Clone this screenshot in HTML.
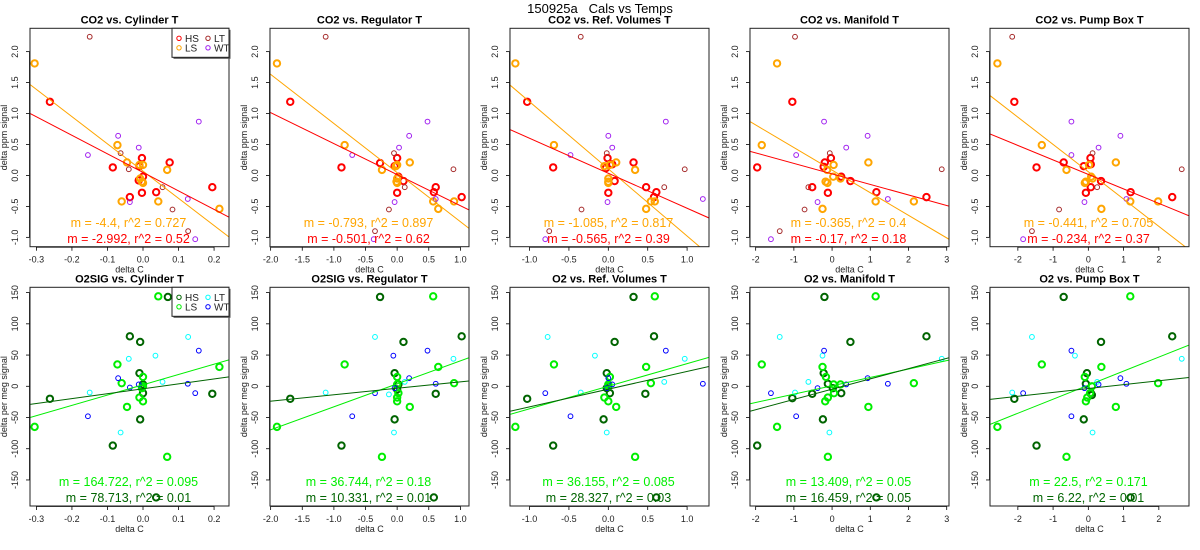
<!DOCTYPE html>
<html><head><meta charset="utf-8"><title>150925a Cals vs Temps</title>
<style>
html,body{margin:0;padding:0;background:#fff;}
svg{display:block;font-family:"Liberation Sans",Arial,sans-serif;}
</style></head>
<body>
<svg id="chart" width="1200" height="550" viewBox="0 0 1200 550">
<text x="600" y="13" text-anchor="middle" font-size="13" style="white-space:pre" xml:space="preserve">150925a   Cals vs Temps</text>
</svg>
<script>
// ---- data ----
const co2Titles = ["CO2 vs. Cylinder T","CO2 vs. Regulator T","CO2 vs. Ref. Volumes T","CO2 vs. Manifold T","CO2 vs. Pump Box T"];
const o2Titles = ["O2SIG vs. Cylinder T","O2SIG vs. Regulator T","O2 vs. Ref. Volumes T","O2 vs. Manifold T","O2 vs. Pump Box T"];
const xRanges = [[-0.318,0.242],[-2.01,1.136],[-1.248,1.278],[-2.148,3.06],[-2.79,2.856]];
const xTicks = [[-0.3,-0.2,-0.1,0,0.1,0.2],[-2,-1.5,-1,-0.5,0,0.5,1],[-1,-0.5,0,0.5,1],[-2,-1,0,1,2,3],[-2,-1,0,1,2]];
const xDigits = [1,1,1,0,0];
const co2Range = [-1.151,2.377];
const co2Ticks = [-1,-0.5,0,0.5,1,1.5,2];
const o2Range = [-191.7,158.5];
const o2Ticks = [-150,-100,-50,0,50,100,150];
// CO2 points: [x, y, group]  groups: H=HS, L=LS, T=LT, W=WT
const co2Points = [
[[-0.262,1.19,"H"],[-0.085,0.13,"H"],[-0.037,-0.35,"H"],[-0.003,0.28,"H"],[-0.003,-0.28,"H"],[0.037,-0.27,"H"],[0.075,0.21,"H"],[0.195,-0.19,"H"],[-0.01,0.15,"H"],[0,-0.02,"H"],[-0.012,-0.08,"H"],
 [-0.305,1.81,"L"],[-0.072,0.49,"L"],[-0.045,0.21,"L"],[-0.06,-0.42,"L"],[0.043,-0.42,"L"],[0.068,0.09,"L"],[0.215,-0.54,"L"],[0,0.17,"L"],[-0.008,-0.05,"L"],[-0.003,-0.1,"L"],[0,-0.12,"L"],[-0.01,0.17,"L"],
 [-0.15,2.24,"T"],[-0.063,0.36,"T"],[-0.04,0.1,"T"],[0.055,-0.19,"T"],[0.083,-0.55,"T"],[0.127,-0.9,"T"],
 [-0.155,0.33,"W"],[-0.07,0.64,"W"],[-0.012,0.45,"W"],[0.157,0.87,"W"],[0.126,-0.38,"W"],[-0.037,-0.43,"W"],[0.147,-1.03,"W"]],
[[-1.69,1.19,"H"],[-0.88,0.13,"H"],[-0.27,0.2,"H"],[-0.04,0.15,"H"],[0,0.28,"H"],[0,-0.28,"H"],[0.1,-0.09,"H"],[0.58,-0.27,"H"],[0.61,-0.19,"H"],[1.02,-0.35,"H"],[0.02,-0.02,"H"],
 [-1.9,1.81,"L"],[-0.83,0.49,"L"],[-0.24,0.09,"L"],[0.2,0.21,"L"],[0.57,-0.42,"L"],[0.65,-0.54,"L"],[0.9,-0.42,"L"],[0,0.17,"L"],[0,-0.05,"L"],[-0.01,-0.1,"L"],[0,-0.12,"L"],[-0.02,0.15,"L"],
 [-1.13,2.24,"T"],[-0.05,0.36,"T"],[0.12,-0.19,"T"],[0.89,0.1,"T"],[-0.13,-0.55,"T"],[-0.35,-0.9,"T"],
 [-0.71,0.33,"W"],[0.19,0.64,"W"],[0.03,0.45,"W"],[0.48,0.87,"W"],[0.61,-0.38,"W"],[-0.04,-0.43,"W"],[-0.37,-1.03,"W"]],
[[-1.03,1.19,"H"],[-0.7,0.13,"H"],[-0.01,0.28,"H"],[0,-0.28,"H"],[0.32,0.21,"H"],[0.48,-0.19,"H"],[0.58,-0.35,"H"],[0.61,-0.27,"H"],[0.08,-0.09,"H"],[-0.03,0.12,"H"],[0.05,0.18,"H"],
 [-1.18,1.81,"L"],[-0.69,0.49,"L"],[0.1,0.21,"L"],[0.34,0.09,"L"],[0.48,-0.54,"L"],[0.54,-0.42,"L"],[0.59,-0.42,"L"],[-0.05,0.15,"L"],[0.02,0.17,"L"],[0,-0.05,"L"],[0,-0.1,"L"],[0,-0.12,"L"],
 [-0.35,2.24,"T"],[-0.02,0.36,"T"],[0.97,0.1,"T"],[0.71,-0.19,"T"],[-0.34,-0.55,"T"],[-0.75,-0.9,"T"],
 [-0.48,0.33,"W"],[0,0.64,"W"],[0.05,0.45,"W"],[0.73,0.87,"W"],[1.2,-0.38,"W"],[-0.01,-0.43,"W"],[-0.8,-1.03,"W"]],
[[-1.04,1.19,"H"],[-1.96,0.13,"H"],[-0.03,0.28,"H"],[-0.19,0.21,"H"],[-0.22,0.14,"H"],[0.24,-0.02,"H"],[0.48,-0.09,"H"],[-0.11,-0.28,"H"],[1.16,-0.27,"H"],[2.47,-0.35,"H"],[-0.52,-0.19,"H"],
 [-1.44,1.81,"L"],[-1.84,0.49,"L"],[0.95,0.21,"L"],[0.04,0.17,"L"],[-0.13,0.09,"L"],[-0.25,-0.54,"L"],[1.14,-0.42,"L"],[2.14,-0.42,"L"],[0.22,-0.05,"L"],[-0.17,-0.1,"L"],[-0.12,-0.12,"L"],[0.03,-0.02,"L"],
 [-0.97,2.24,"T"],[-0.06,0.36,"T"],[2.87,0.1,"T"],[-0.62,-0.19,"T"],[-0.72,-0.55,"T"],[-1.37,-0.9,"T"],
 [-0.94,0.33,"W"],[-0.21,0.87,"W"],[0.93,0.64,"W"],[0.37,0.45,"W"],[1.46,-0.38,"W"],[-0.38,-0.43,"W"],[-1.6,-1.03,"W"]],
[[-2.1,1.19,"H"],[-1.47,0.13,"H"],[-0.7,0.21,"H"],[-0.13,0.15,"H"],[0.06,0.28,"H"],[0.07,0.18,"H"],[-0.07,-0.28,"H"],[0.07,-0.19,"H"],[0.36,-0.09,"H"],[1.2,-0.27,"H"],[2.38,-0.35,"H"],
 [-2.58,1.81,"L"],[-1.32,0.49,"L"],[-0.62,0.09,"L"],[0.78,0.21,"L"],[0.37,-0.54,"L"],[1.19,-0.42,"L"],[1.98,-0.42,"L"],[0.02,0.17,"L"],[0.08,-0.02,"L"],[-0.07,-0.1,"L"],[-0.1,-0.12,"L"],[0.12,-0.05,"L"],
 [-2.16,2.24,"T"],[0.12,0.36,"T"],[2.65,0.1,"T"],[0.25,-0.19,"T"],[-0.83,-0.55,"T"],[-1.6,-0.9,"T"],
 [-0.48,0.87,"W"],[0.91,0.64,"W"],[0.29,0.45,"W"],[-0.48,0.33,"W"],[1.08,-0.38,"W"],[-0.11,-0.43,"W"],[-1.85,-1.03,"W"]]
];
const o2Points = [
[[-0.262,-20,"H"],[-0.037,80,"H"],[-0.008,71,"H"],[-0.01,21,"H"],[-0.085,-95,"H"],[-0.008,-53,"H"],[0,-11,"H"],[0.195,-12,"H"],[0.07,143,"H"],[0.037,-178,"H"],[0,3,"H"],
 [-0.305,-65,"L"],[0.043,144,"L"],[-0.072,35,"L"],[-0.06,5,"L"],[-0.045,-33,"L"],[0,15,"L"],[-0.01,-18,"L"],[0,-24,"L"],[0.068,-113,"L"],[0.215,31,"L"],[0,0,"L"],[-0.003,-3,"L"],
 [-0.15,-10,"T"],[0.127,79,"T"],[-0.04,44,"T"],[0.055,7,"T"],[-0.063,-74,"T"],[0.035,49,"T"],
 [-0.155,-48,"W"],[-0.07,13,"W"],[-0.037,-2,"W"],[-0.012,3,"W"],[0.157,57,"W"],[0.126,4,"W"],[0.147,-11,"W"]],
[[-1.69,-20,"H"],[-0.27,143,"H"],[0.1,71,"H"],[1.02,80,"H"],[-0.04,21,"H"],[0.02,3,"H"],[0.61,-12,"H"],[-0.04,-53,"H"],[-0.88,-95,"H"],[0.58,-178,"H"],[0,-5,"H"],
 [-1.9,-65,"L"],[0.57,144,"L"],[-0.83,35,"L"],[0.65,31,"L"],[0.9,5,"L"],[0,15,"L"],[0,-18,"L"],[0,-24,"L"],[0.2,-33,"L"],[-0.24,-113,"L"],[0.02,-11,"L"],[0,3,"L"],
 [-1.13,-10,"T"],[-0.35,79,"T"],[0.12,7,"T"],[0.89,44,"T"],[-0.05,-74,"T"],[-0.13,-13,"T"],
 [-0.71,-48,"W"],[-0.35,-11,"W"],[0.19,13,"W"],[0.48,57,"W"],[0.61,4,"W"],[-0.04,-3,"W"],[-0.06,49,"W"]],
[[-1.03,-20,"H"],[0.32,143,"H"],[0.08,71,"H"],[0.58,80,"H"],[-0.02,21,"H"],[0.47,-12,"H"],[-0.06,-53,"H"],[-0.7,-95,"H"],[0.61,-178,"H"],[-0.02,-3,"H"],[0.02,-11,"H"],
 [-1.18,-65,"L"],[0.59,144,"L"],[-0.69,35,"L"],[0.48,31,"L"],[0.54,5,"L"],[0.02,15,"L"],[-0.05,-18,"L"],[0,-24,"L"],[0.1,-33,"L"],[0.34,-113,"L"],[0,3,"L"],[0,0,"L"],
 [-0.77,79,"T"],[-0.35,-10,"T"],[0.71,7,"T"],[0.97,44,"T"],[-0.02,-74,"T"],[-0.17,49,"T"],
 [-0.8,-11,"W"],[-0.48,-48,"W"],[0,13,"W"],[0.05,3,"W"],[0.73,57,"W"],[1.2,4,"W"],[-0.02,-3,"W"]],
[[-1.96,-95,"H"],[-0.2,143,"H"],[0.48,71,"H"],[2.47,80,"H"],[-0.22,21,"H"],[-0.11,4,"H"],[0.24,-11,"H"],[-0.52,-12,"H"],[-1.04,-19,"H"],[-0.24,-53,"H"],[1.16,-178,"H"],[0.02,-3,"H"],
 [-1.84,35,"L"],[1.14,144,"L"],[-0.25,31,"L"],[-0.16,15,"L"],[0.04,3,"L"],[0.22,3,"L"],[-0.11,-18,"L"],[-0.18,-24,"L"],[0.95,-33,"L"],[-1.44,-65,"L"],[-0.11,-113,"L"],[2.14,5,"L"],[0.05,-11,"L"],
 [-1.37,79,"T"],[-0.62,7,"T"],[-0.97,-10,"T"],[2.87,44,"T"],[-0.07,-74,"T"],[-0.25,49,"T"],
 [-0.21,57,"W"],[-1.6,-11,"W"],[-0.94,-48,"W"],[-0.38,-3,"W"],[0.37,3,"W"],[0.93,13,"W"],[1.46,4,"W"]],
[[-0.7,143,"H"],[0.36,71,"H"],[2.38,80,"H"],[-0.04,21,"H"],[-0.07,4,"H"],[0.07,-11,"H"],[-2.1,-20,"H"],[-0.13,-53,"H"],[-1.47,-95,"H"],[1.2,-178,"H"],[0.1,-14,"H"],
 [1.19,144,"L"],[-1.32,35,"L"],[0.37,31,"L"],[-0.1,15,"L"],[0.1,0,"L"],[1.98,5,"L"],[0.05,-11,"L"],[-0.03,-18,"L"],[-0.07,-24,"L"],[0.78,-33,"L"],[-2.58,-65,"L"],[-0.62,-113,"L"],
 [-1.6,79,"T"],[-2.16,-10,"T"],[0.25,7,"T"],[2.65,44,"T"],[0.12,-74,"T"],[-0.38,49,"T"],
 [-0.48,57,"W"],[-1.85,-11,"W"],[0.91,13,"W"],[1.08,4,"W"],[0.29,3,"W"],[-0.11,-3,"W"],[-0.48,-48,"W"]]
];
// regression fits [slope, intercept], and printed r^2
const co2SlopeLS = [-4.4,-0.793,-1.085,-0.365,-0.441];
const co2InterLS = [0.07,0.046,0.106,0.086,0.06];
const co2R2LS = ["0.727","0.897","0.817","0.4","0.705"];
const co2SlopeHS = [-2.992,-0.501,-0.565,-0.17,-0.234];
const co2InterHS = [0.05,0.013,0.035,0.025,0.017];
const co2R2HS = ["0.52","0.62","0.39","0.18","0.37"];
const o2SlopeLS = [164.722,36.744,36.155,13.409,22.5];
const o2InterLS = [2.4,3.9,0.1,0.8,1.8];
const o2R2LS = ["0.095","0.18","0.085","0.05","0.171"];
const o2SlopeHS = [78.713,10.331,28.327,16.459,6.22];
const o2InterHS = [-4,-3.2,-4.6,-4.6,-3.6];
const o2R2HS = ["0.01","0.01","0.03","0.05","0.01"];

// ---- drawing ----
const NS = "http://www.w3.org/2000/svg";
const svg = document.getElementById("chart");
function mk(tag, attrs, parent){const e=document.createElementNS(NS,tag);for(const k in attrs)e.setAttribute(k,attrs[k]);(parent||svg).appendChild(e);return e;}
const co2Colors = {H:"#ff0000",L:"#ffa500",T:"#a52a2a",W:"#a020f0"};
const o2Colors = {H:"#006400",L:"#00ee00",T:"#00ffff",W:"#0000ff"};
const groupNames = {H:"HS",L:"LS",T:"LT",W:"WT"};

function panel(k, row){
  const left = 30 + 240*k, right = 229 + 240*k;
  const top = row===0 ? 28.3 : 287.3, bottom = row===0 ? 246.7 : 506;
  const xr = xRanges[k];
  const yr = row===0 ? co2Range : o2Range;
  const sx = v => left + (v - xr[0])/(xr[1]-xr[0])*(right-left);
  const sy = v => bottom - (v - yr[0])/(yr[1]-yr[0])*(bottom-top);
  const g = mk("g",{});
  
  
  const clipId = "clip"+row+"_"+k;
  const cp = mk("clipPath",{id:clipId},g);
  mk("rect",{x:left,y:top,width:right-left,height:bottom-top},cp);
  const t = mk("text",{x:(left+right)/2,y:top-5,"text-anchor":"middle","font-size":"11","font-weight":"bold"},g);
  t.textContent = row===0 ? co2Titles[k] : o2Titles[k];
  
  
  const xa = mk("g",{},g);
  
  
  const tks = xTicks[k];
  mk("line",{x1:sx(tks[0]),x2:sx(tks[tks.length-1]),y1:bottom+0.5,y2:bottom+0.5,stroke:"#000","stroke-width":"0.8"},xa);
  tks.forEach(v=>{
    mk("line",{x1:sx(v),x2:sx(v),y1:bottom,y2:bottom+4,stroke:"#000","stroke-width":"0.8"},xa);
    const tl = mk("text",{x:sx(v),y:bottom+16,"text-anchor":"middle","font-size":"9",fill:"#222"},xa);
    tl.textContent = v.toFixed(xDigits[k]);
    
    
  });
  const xl = mk("text",{x:(left+right)/2,y:bottom+26,"text-anchor":"middle","font-size":"9",fill:"#222"},g);
  xl.textContent = "delta C";
  
  
  const ya = mk("g",{},g);
  
  
  const yt = row===0 ? co2Ticks : o2Ticks;
  mk("line",{x1:left-0.5,x2:left-0.5,y1:sy(yt[0]),y2:sy(yt[yt.length-1]),stroke:"#000","stroke-width":"0.8"},ya);
  yt.forEach(v=>{
    mk("line",{x1:left-4,x2:left,y1:sy(v),y2:sy(v),stroke:"#000","stroke-width":"0.8"},ya);
    const lx = left-12, ly = sy(v);
    const tl = mk("text",{x:lx,y:ly,"text-anchor":"middle","font-size":"9",fill:"#222",transform:`rotate(-90 ${lx} ${ly})`},ya);
    tl.textContent = row===0 ? v.toFixed(1) : String(v);
    
    
  });
  const ylx = left-23, yly = (top+bottom)/2;
  const yl = mk("text",{x:ylx,y:yly,"text-anchor":"middle","font-size":"9",fill:"#222",transform:`rotate(-90 ${ylx} ${yly})`},g);
  yl.textContent = row===0 ? "delta ppm signal" : "delta per meg signal";
  
  
  const cols = row===0 ? co2Colors : o2Colors;
  const pts = row===0 ? co2Points[k] : o2Points[k];
  const pg = mk("g",{"clip-path":`url(#${clipId})`},g);
  pts.forEach(p=>{
    const thick = p[2]==="H" || p[2]==="L";
    const c = mk("circle",{cx:sx(p[0]),cy:sy(p[1]),r:thick?3.2:2.4,fill:"none",stroke:cols[p[2]],"stroke-width":thick?2:1},pg);
    
    
  });
  const fits = row===0
    ? [[co2SlopeLS[k],co2InterLS[k],cols.L,"fit-line-ls"],[co2SlopeHS[k],co2InterHS[k],cols.H,"fit-line-hs"]]
    : [[o2SlopeLS[k],o2InterLS[k],cols.L,"fit-line-ls"],[o2SlopeHS[k],o2InterHS[k],cols.H,"fit-line-hs"]];
  fits.forEach(f=>{
    const l = mk("line",{x1:sx(xr[0]),y1:sy(f[1]+f[0]*xr[0]),x2:sx(xr[1]),y2:sy(f[1]+f[0]*xr[1]),stroke:f[2],"stroke-width":"1"},pg);
    
    
  });
  const s1 = mk("text",{x:(left+right)/2-1,y:row===0?227:486,"text-anchor":"middle","font-size":"12.5",fill:cols.L},g);
  s1.textContent = row===0 ? `m = ${co2SlopeLS[k]}, r^2 = ${co2R2LS[k]}` : `m = ${o2SlopeLS[k]}, r^2 = ${o2R2LS[k]}`;
  
  
  const s2 = mk("text",{x:(left+right)/2-1,y:row===0?243:502,"text-anchor":"middle","font-size":"12.5",fill:cols.H},g);
  s2.textContent = row===0 ? `m = ${co2SlopeHS[k]}, r^2 = ${co2R2HS[k]}` : `m = ${o2SlopeHS[k]}, r^2 = ${o2R2HS[k]}`;
  
  
  mk("rect",{x:left,y:top,width:right-left,height:bottom-top,fill:"none",stroke:"#222","stroke-width":"1"},g);
  if(k===0){
    const lg = mk("g",{},g);
    
    
    const lx0 = 172, ly0 = top, lw = right-lx0, lh = 29;
    mk("rect",{x:lx0+1.5,y:ly0+1.5,width:lw,height:lh,fill:"#555"},lg);
    mk("rect",{x:lx0,y:ly0,width:lw,height:lh,fill:"#fff",stroke:"#222","stroke-width":"1"},lg);
    const ents = [["H",0,0],["T",1,0],["L",0,1],["W",1,1]];
    ents.forEach(e=>{
      const ex = lx0+7+e[1]*29, ey = ly0+10+e[2]*9.5;
      const eg = mk("g",{},lg);
      
      
      mk("circle",{cx:ex,cy:ey,r:2.2,fill:"none",stroke:cols[e[0]],"stroke-width":1},eg);
      const et = mk("text",{x:ex+6,y:ey+3.5,"font-size":"10",fill:"#222"},eg);
      et.textContent = groupNames[e[0]];
    });
  }
}
for(let k=0;k<5;k++){panel(k,0);panel(k,1);}
</script>
</body></html>
